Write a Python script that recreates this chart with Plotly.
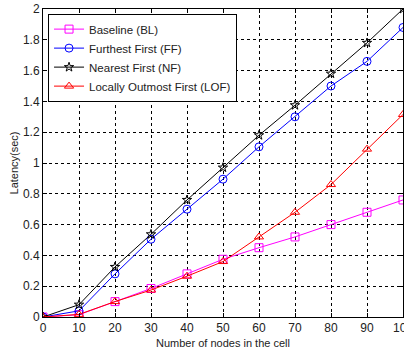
import plotly.graph_objects as go

nodes = [0, 10, 20, 30, 40, 50, 60, 70, 80, 90, 100]
bl = [0, 0.015, 0.10, 0.185, 0.28, 0.375, 0.45, 0.52, 0.60, 0.68, 0.76]
ff = [0, 0.04, 0.28, 0.505, 0.70, 0.895, 1.105, 1.30, 1.50, 1.66, 1.88]
nf = [0, 0.08, 0.325, 0.537, 0.76, 0.97, 1.18, 1.375, 1.58, 1.78, 2.0]
lof = [0, 0.017, 0.10, 0.175, 0.265, 0.36, 0.52, 0.68, 0.86, 1.09, 1.315]

names = ["Baseline (BL)", "Furthest First (FF)", "Nearest First (NF)", "Locally Outmost First (LOF)"]
colors = ["#ff00ff", "#0000ff", "#000000", "#ff0000"]
symbols = ["square-open", "circle-open", "star-open", "triangle-up-open"]
sizes = [8, 8, 7, 8]

fig = go.Figure()
for ys, nm, c, s, sz in zip([bl, ff, nf, lof], names, colors, symbols, sizes):
    fig.add_trace(go.Scatter(
        x=nodes, y=ys, name=nm, mode="lines+markers",
        line=dict(color=c, width=1),
        marker=dict(symbol=s, size=sz, color=c, line=dict(width=1, color=c)),
    ))

axis_common = dict(
    showline=True, linecolor="black", linewidth=1, mirror="ticks",
    ticks="inside", ticklen=4, tickcolor="black",
    showgrid=True, gridcolor="black", gridwidth=1, griddash="3px,3px",
    zeroline=False, tickfont=dict(size=12, color="#222"),
    ticklabeloverflow="allow", automargin=False,
)
fig.update_xaxes(range=[0, 100], tickvals=nodes, **axis_common,
                 title=dict(text="Number of nodes in the cell", font=dict(size=11, color="#222"), standoff=4))
fig.update_yaxes(range=[0, 2], tickvals=[0, 0.2, 0.4, 0.6, 0.8, 1, 1.2, 1.4, 1.6, 1.8, 2],
                 ticktext=["0", "0.2", "0.4", "0.6", "0.8", "1", "1.2", "1.4", "1.6", "1.8", "2"],
                 **axis_common,
                 title=dict(text="Latency(sec)", font=dict(size=11, color="#222"), standoff=2))

fig.update_layout(
    width=404, height=354,
    margin=dict(l=43, r=1, t=9, b=37, autoexpand=False),
    paper_bgcolor="white", plot_bgcolor="white",
    font=dict(family="Liberation Sans, Arial, sans-serif", size=12, color="#222"),
    legend=dict(x=0.014, y=0.985, xanchor="left", yanchor="top",
                bgcolor="white", bordercolor="black", borderwidth=1,
                font=dict(size=11.5), tracegroupgap=0, itemwidth=30),
    showlegend=True,
)
fig.write_html("out.html")
